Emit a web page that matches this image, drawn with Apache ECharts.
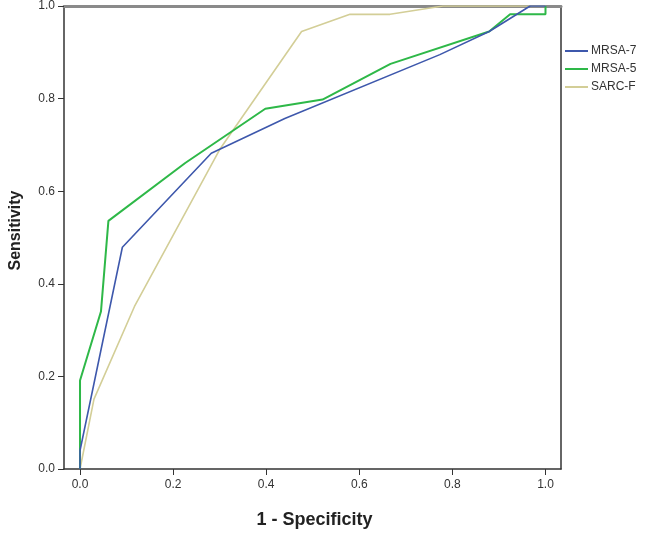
<!DOCTYPE html>
<html>
<head>
<meta charset="utf-8">
<script src="https://cdn.jsdelivr.net/npm/echarts@6/dist/echarts.min.js"></script>
<style>
html,body{margin:0;padding:0;background:#fff;}
#chart{width:646px;height:535px;}
</style>
</head>
<body>
<div id="chart"></div>
<script>
// Data: [1 - Specificity, Sensitivity]
var seriesNames = ['MRSA-7', 'MRSA-5', 'SARC-F'];
var mrsa7 = [[0,0],[0,0.04],[0.091,0.479],[0.282,0.682],[0.44,0.757],[0.773,0.895],[0.879,0.945],[0.967,1.0],[1,1]];
var mrsa5 = [[0,0],[0,0.191],[0.045,0.34],[0.061,0.536],[0.226,0.661],[0.398,0.778],[0.521,0.798],[0.667,0.875],[0.879,0.945],[0.924,0.982],[1,0.982],[1,1]];
var sarcf = [[0,0],[0.03,0.151],[0.117,0.351],[0.3,0.69],[0.476,0.945],[0.58,0.982],[0.666,0.982],[0.78,1.0],[1,1]];
var tickValues = [0, 0.2, 0.4, 0.6, 0.8, 1.0];
var xTitle = '1 - Specificity';
var yTitle = 'Sensitivity';
var colors = ['#3E58AC', '#2EB848', '#D3CE97'];

var chart = echarts.init(document.getElementById('chart'), null, {renderer: 'canvas'});
var font = 'Liberation Sans, Arial, sans-serif';
var labelStyle = {color: '#333', fontSize: 12, fontFamily: font};
chart.setOption({
  animation: false,
  grid: {left: 64, top: 6, width: 497, height: 463},
  legend: {
    orient: 'vertical', left: 560, top: 40, itemGap: 6,
    icon: 'rect', itemWidth: 23, itemHeight: 2,
    textStyle: {color: '#333', fontSize: 12, fontFamily: font, padding: [0,0,0,-2]},
    data: seriesNames
  },
  xAxis: [{
    type: 'value', min: -0.0344, max: 1.0333,
    name: xTitle, nameLocation: 'middle', nameGap: 42,
    nameTextStyle: {fontSize: 18, fontWeight: 'bold', color: '#222', fontFamily: font, padding: [0,0,0,4]},
    axisLine: {show: true, onZero: false, lineStyle: {color: '#333', width: 1.5}},
    axisTick: {show: true, length: 6, customValues: tickValues, lineStyle: {color: '#333'}},
    axisLabel: {customValues: tickValues, formatter: function(v){return v.toFixed(1);}, margin: 10, ...labelStyle},
    splitLine: {show: false}
  }, {
    type: 'value', position: 'top', min: -0.0344, max: 1.0333,
    axisLine: {show: true, onZero: false, lineStyle: {color: '#8a8a8a', width: 3}},
    axisTick: {show: false}, axisLabel: {show: false}, splitLine: {show: false}
  }],
  yAxis: [{
    type: 'value', min: 0, max: 1, interval: 0.2,
    name: yTitle, nameLocation: 'middle', nameGap: 40, nameRotate: 90,
    nameTextStyle: {fontSize: 16, fontWeight: 'bold', color: '#222', fontFamily: font, padding: [0,0,0,14]},
    axisLine: {show: true, onZero: false, lineStyle: {color: '#333', width: 1.5}},
    axisTick: {show: true, length: 6, lineStyle: {color: '#333'}},
    axisLabel: {formatter: function(v){return v.toFixed(1);}, margin: 9, ...labelStyle},
    splitLine: {show: false}
  }, {
    type: 'value', position: 'right', min: 0, max: 1,
    axisLine: {show: true, onZero: false, lineStyle: {color: '#333', width: 1.5}},
    axisTick: {show: false}, axisLabel: {show: false}, splitLine: {show: false}
  }],
  series: [
    {name: seriesNames[0], type: 'line', data: mrsa7, showSymbol: false, symbol: 'none', color: colors[0], lineStyle: {width: 1.6, color: colors[0]}, z: 3},
    {name: seriesNames[1], type: 'line', data: mrsa5, showSymbol: false, symbol: 'none', color: colors[1], lineStyle: {width: 2, color: colors[1]}, z: 2},
    {name: seriesNames[2], type: 'line', data: sarcf, showSymbol: false, symbol: 'none', color: colors[2], lineStyle: {width: 1.6, color: colors[2]}, z: 1}
  ]
});
</script>
</body>
</html>
